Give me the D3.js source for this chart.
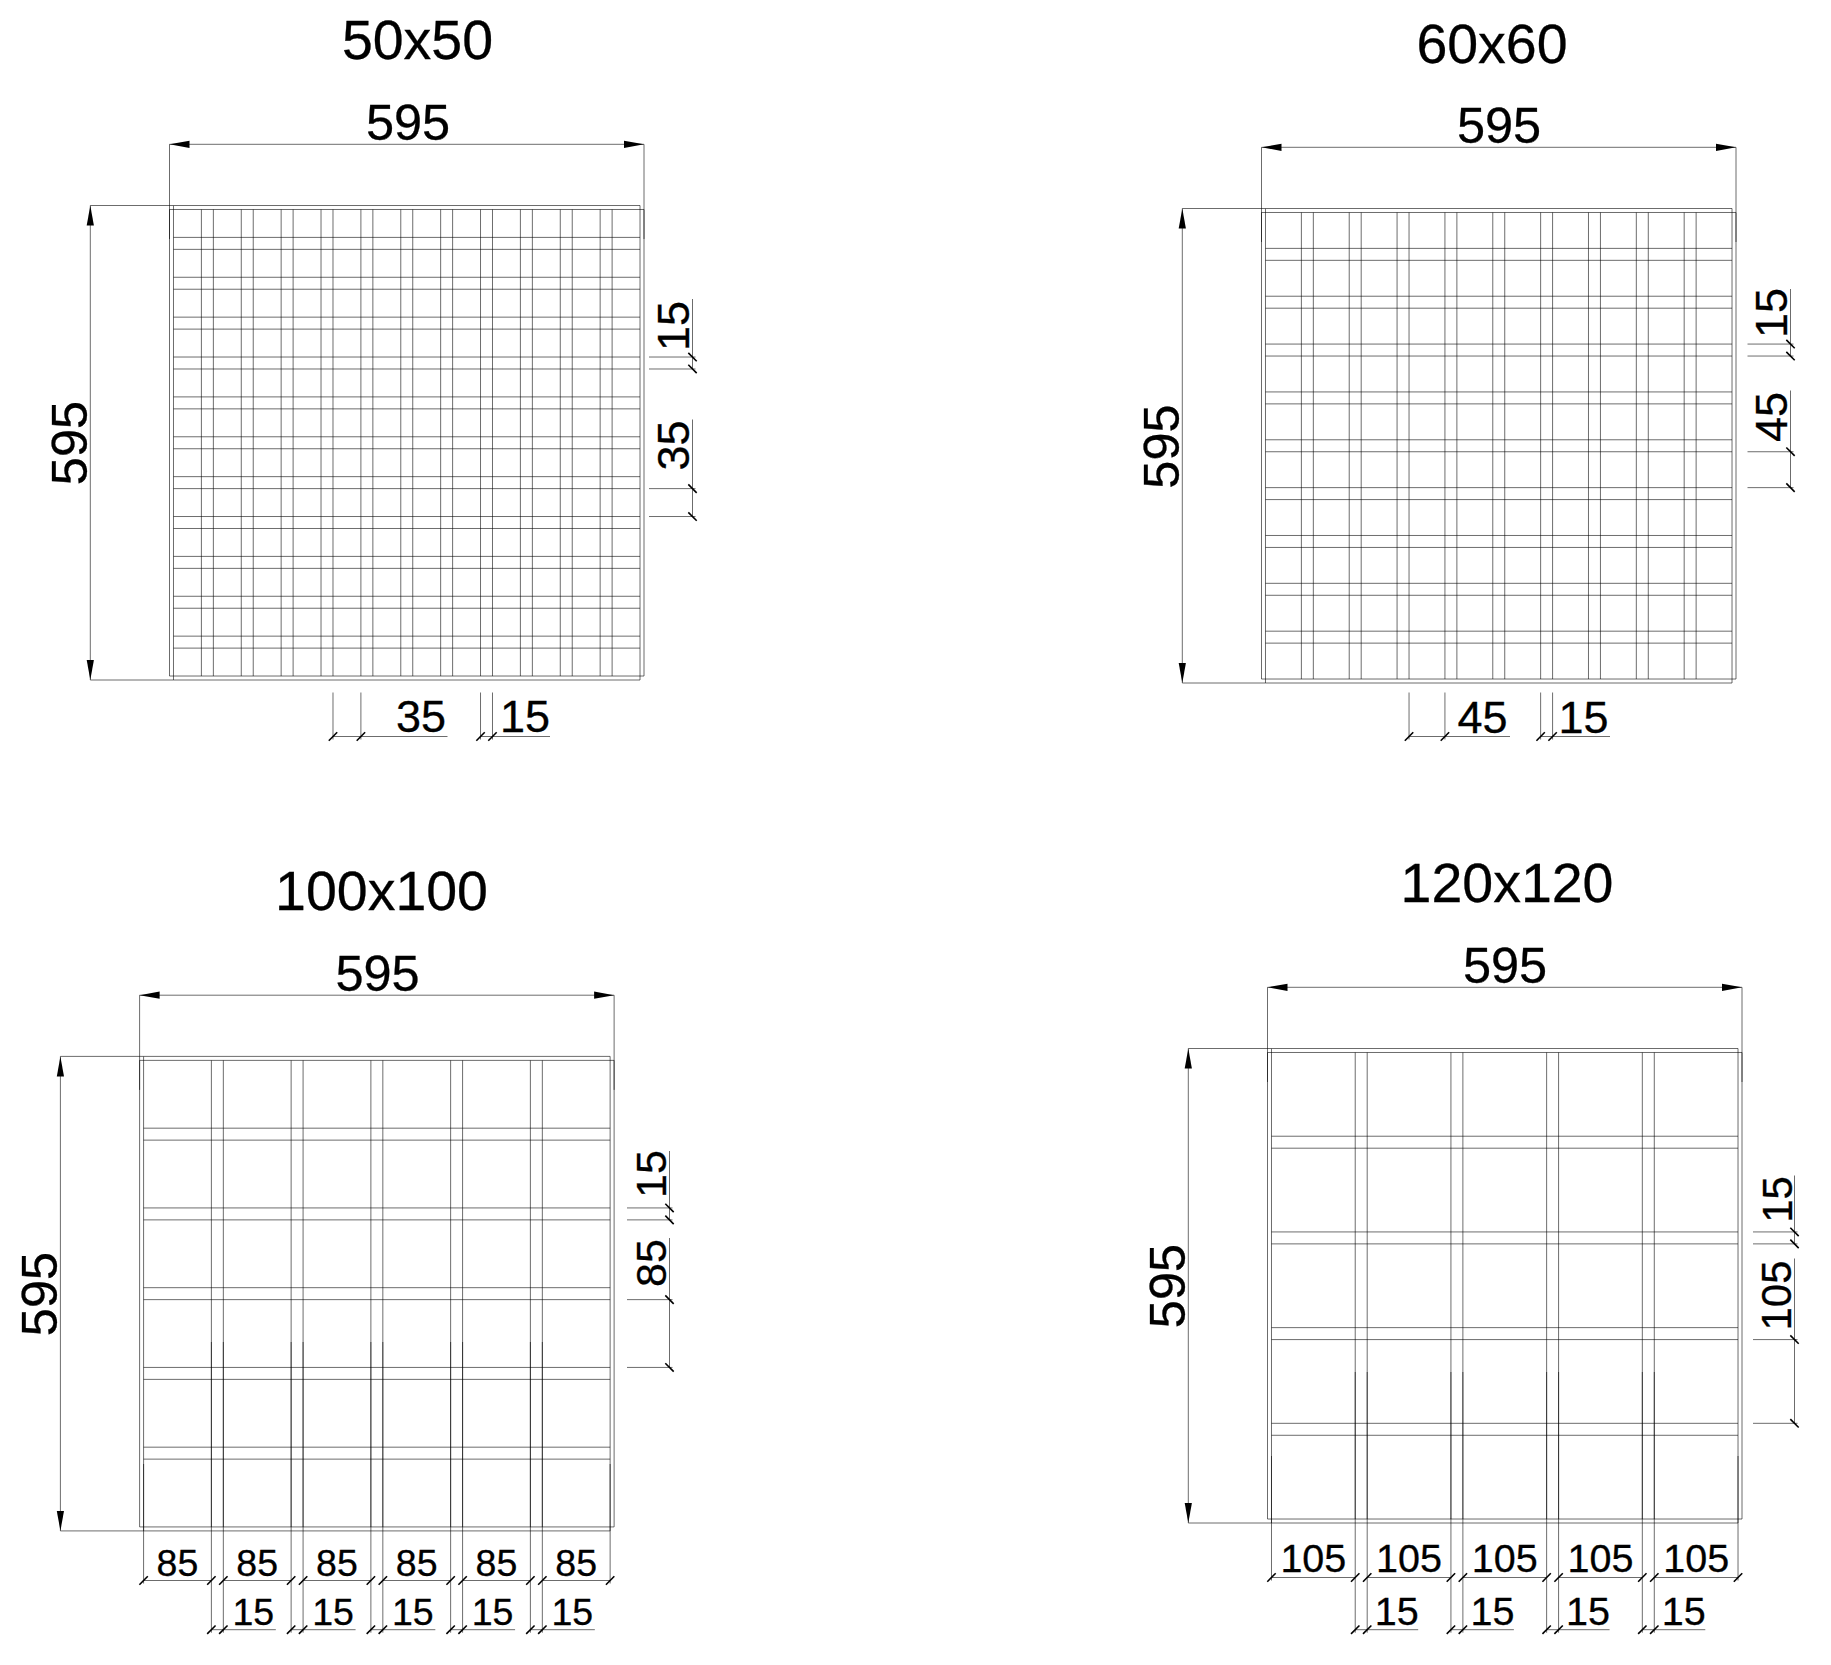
<!DOCTYPE html>
<html>
<head>
<meta charset="utf-8">
<script src="https://d3js.org/d3.v7.min.js"></script>
<style>
  body { margin: 0; background: #fff; }
  text { font-family: "Liberation Sans", Arial, sans-serif; fill: #000; stroke: #000; stroke-width: 0.3px; }
</style>
</head>
<body>
<div id="chart"></div>
<script>
// all values in mm, as dimensioned on the drawing
const titles = ["50x50", "60x60", "100x100", "120x120"];
const sheetLabel = "595";
const sheetSize = 595;
const inset = 5;
const wires50 = [40, 55, 90, 105, 140, 155, 190, 205, 240, 255, 290, 305, 340, 355, 390, 405, 440, 455, 490, 505, 540, 555];
const wires60 = [50, 65, 110, 125, 170, 185, 230, 245, 290, 305, 350, 365, 410, 425, 470, 485, 530, 545];
const wires100 = [90, 105, 190, 205, 290, 305, 390, 405, 490, 505];
const wires120 = [110, 125, 230, 245, 350, 365, 470, 485];
const gapLabels = ["35", "45", "85", "105"];
const wireLabel = "15";

const width = 1831, height = 1665;
const k = 0.7975; // px per mm

// where each sheet sits on the page, and where its annotations go (px)
const layout = [
  { wires: wires50, x0: 169.5, y0: 205.5, titleX: 417.5, titleY: 58.5, topX: 408, topY: 140, leftX: 86.5, leftY: 443, font: 45, sideFont: 45,
    side: { lineX: 692.5, extX: 649, wire: [190, 205], wireTop: 299, wireTextY: 326, wireBase: 689, gap: [355, 390], gapTop: 419.5, gapTextY: 445.5, gapBase: 689 },
    bottom: { lineY: 736.5, extY: 692.5, textY: 731.5, gap: [205, 240], gapEnd: 447.5, gapTextX: 421, wire: [390, 405], wireEnd: 550, wireTextX: 525 } },
  { wires: wires60, x0: 1261.5, y0: 208.5, titleX: 1492, titleY: 62.5, topX: 1499, topY: 142.5, leftX: 1178.5, leftY: 446.5, font: 45, sideFont: 45,
    side: { lineX: 1790.5, extX: 1747.5, wire: [170, 185], wireTop: 289, wireTextY: 313, wireBase: 1787, gap: [305, 350], gapTop: 390.5, gapTextY: 417, gapBase: 1787 },
    bottom: { lineY: 736.5, extY: 692.5, textY: 732.5, gap: [185, 230], gapEnd: 1510, gapTextX: 1482.5, wire: [350, 365], wireEnd: 1610, wireTextX: 1583.5 } },
  { wires: wires100, x0: 139.6, y0: 1056.4, titleX: 381.5, titleY: 910, topX: 377.5, topY: 990.5, leftX: 57, leftY: 1294, font: 37.5, sideFont: 43,
    side: { lineX: 669.5, extX: 627, wire: [190, 205], wireTop: 1151, wireTextY: 1174, wireBase: 666, gap: [305, 390], gapTop: 1238, gapTextY: 1263, gapBase: 666 },
    rows: { row1Y: 1580.5, row1Text: 1576, row2Y: 1629.7, row2Text: 1625, wireFrom: 1342, edgeFrom: 1464, tail: 52.5, textOff: 30, gapLabel: "85" } },
  { wires: wires120, x0: 1267.5, y0: 1048.5, titleX: 1507, titleY: 902, topX: 1505, topY: 983, leftX: 1184.5, leftY: 1286, font: 39.5, sideFont: 42,
    side: { lineX: 1794.5, extX: 1753, wire: [230, 245], wireTop: 1175.5, wireTextY: 1199.5, wireBase: 1792, gap: [365, 470], gapTop: 1258.5, gapTextY: 1295.5, gapBase: 1790.5 },
    rows: { row1Y: 1577.5, row1Text: 1571.5, row2Y: 1629.7, row2Text: 1625, wireFrom: 1372, edgeFrom: 1456, tail: 51, textOff: 29.5, gapLabel: "105" } }
];

const svg = d3.select("#chart").append("svg")
  .attr("width", width)
  .attr("height", height)
  .style("display", "block");

const seg = (g, x1, y1, x2, y2, w) => g.append("line")
  .attr("x1", x1).attr("y1", y1).attr("x2", x2).attr("y2", y2)
  .attr("stroke", "#000")
  .attr("stroke-width", w || 0.58);

const label = (g, txt, x, y, size, rotate) => g.append("text")
  .attr("transform", rotate ? `translate(${x},${y}) rotate(-90)` : `translate(${x},${y})`)
  .attr("text-anchor", "middle")
  .attr("font-size", size)
  .text(txt);

// oblique tick, / on horizontal dims and \ on vertical ones
const tickH = (g, x, y) => seg(g, x - 4.2, y + 4.2, x + 4.2, y - 4.2, 1.6);
const tickV = (g, x, y) => seg(g, x - 4.2, y - 4.2, x + 4.2, y + 4.2, 1.6);

const arrow = (g, pts) => g.append("path")
  .attr("d", d3.line()(pts) + "Z")
  .attr("fill", "#000");

function drawSheet(p, i) {
  const g = svg.append("g");
  const x = d3.scaleLinear().domain([0, sheetSize]).range([p.x0, p.x0 + sheetSize * k]);
  const y = d3.scaleLinear().domain([0, sheetSize]).range([p.y0, p.y0 + sheetSize * k]);
  const lo = inset, hi = sheetSize - inset;

  // the two offset outlines
  seg(g, x(0), y(lo), x(sheetSize), y(lo));
  seg(g, x(0), y(hi), x(sheetSize), y(hi));
  seg(g, x(0), y(lo), x(0), y(hi));
  seg(g, x(sheetSize), y(lo), x(sheetSize), y(hi));
  seg(g, x(lo), y(0), x(hi), y(0));
  seg(g, x(lo), y(sheetSize), x(hi), y(sheetSize));
  seg(g, x(lo), y(0), x(lo), y(sheetSize));
  seg(g, x(hi), y(0), x(hi), y(sheetSize));

  // mesh wires
  g.selectAll(".wv").data(p.wires).join("line").attr("class", "wv")
    .attr("x1", d => x(d)).attr("x2", d => x(d))
    .attr("y1", y(lo)).attr("y2", y(hi))
    .attr("stroke", "#000").attr("stroke-width", 0.58);
  g.selectAll(".wh").data(p.wires).join("line").attr("class", "wh")
    .attr("y1", d => y(d)).attr("y2", d => y(d))
    .attr("x1", x(lo)).attr("x2", x(hi))
    .attr("stroke", "#000").attr("stroke-width", 0.58);

  label(g, titles[i], p.titleX, p.titleY, 55.5);

  // overall width
  const topDim = p.y0 - 61.2;
  seg(g, x(0), topDim, x(sheetSize), topDim);
  seg(g, x(0), topDim, x(0), y(42));
  seg(g, x(sheetSize), topDim, x(sheetSize), y(42));
  arrow(g, [[x(0), topDim], [x(0) + 20, topDim - 3.6], [x(0) + 20, topDim + 3.6]]);
  arrow(g, [[x(sheetSize), topDim], [x(sheetSize) - 20, topDim - 3.6], [x(sheetSize) - 20, topDim + 3.6]]);
  label(g, sheetLabel, p.topX, p.topY, 50.5);

  // overall height
  const leftDim = p.x0 - 79.2;
  seg(g, leftDim, y(0), leftDim, y(sheetSize));
  seg(g, leftDim, y(0), x(lo), y(0));
  seg(g, leftDim, y(sheetSize), x(lo), y(sheetSize));
  arrow(g, [[leftDim, y(0)], [leftDim - 3.6, y(0) + 20], [leftDim + 3.6, y(0) + 20]]);
  arrow(g, [[leftDim, y(sheetSize)], [leftDim - 3.6, y(sheetSize) - 20], [leftDim + 3.6, y(sheetSize) - 20]]);
  label(g, sheetLabel, p.leftX, p.leftY, 50.5, true);

  // wire and gap dims on the right
  const s = p.side;
  seg(g, s.lineX, s.wireTop, s.lineX, y(s.wire[1]));
  seg(g, s.lineX, s.gapTop, s.lineX, y(s.gap[1]));
  s.wire.concat(s.gap).forEach(d => {
    seg(g, s.extX, y(d), s.lineX + 3, y(d));
    tickV(g, s.lineX, y(d));
  });
  label(g, wireLabel, s.wireBase, s.wireTextY, p.sideFont, true);
  label(g, gapLabels[i], s.gapBase, s.gapTextY, p.sideFont, true);

  if (p.bottom) {
    const b = p.bottom;
    seg(g, x(b.gap[0]), b.lineY, b.gapEnd, b.lineY);
    seg(g, x(b.wire[0]), b.lineY, b.wireEnd, b.lineY);
    b.gap.concat(b.wire).forEach(d => {
      seg(g, x(d), b.extY, x(d), b.lineY + 3);
      tickH(g, x(d), b.lineY);
    });
    label(g, gapLabels[i], b.gapTextX, b.textY, p.font);
    label(g, wireLabel, b.wireTextX, b.textY, p.font);
  }

  if (p.rows) {
    const r = p.rows;
    const stops = [lo].concat(p.wires, [hi]);
    // gap between wire pairs on the first row
    for (let n = 0; n < stops.length; n += 2) {
      const a = stops[n], c = stops[n + 1];
      seg(g, x(a), r.row1Y, x(c), r.row1Y);
      tickH(g, x(a), r.row1Y);
      tickH(g, x(c), r.row1Y);
      label(g, r.gapLabel, (x(a) + x(c)) / 2, r.row1Text, p.font);
    }
    seg(g, x(lo), r.edgeFrom, x(lo), r.row1Y + 3);
    seg(g, x(hi), r.edgeFrom, x(hi), r.row1Y + 3);
    // wire width on the second row
    for (let n = 0; n < p.wires.length; n += 2) {
      const a = p.wires[n], c = p.wires[n + 1];
      seg(g, x(a), r.wireFrom, x(a), r.row2Y + 3);
      seg(g, x(c), r.wireFrom, x(c), r.row2Y + 3);
      seg(g, x(a), r.row2Y, x(c) + r.tail, r.row2Y);
      tickH(g, x(a), r.row2Y);
      tickH(g, x(c), r.row2Y);
      label(g, wireLabel, x(c) + r.textOff, r.row2Text, p.font);
    }
  }
}

layout.forEach(drawSheet);
</script>
</body>
</html>
